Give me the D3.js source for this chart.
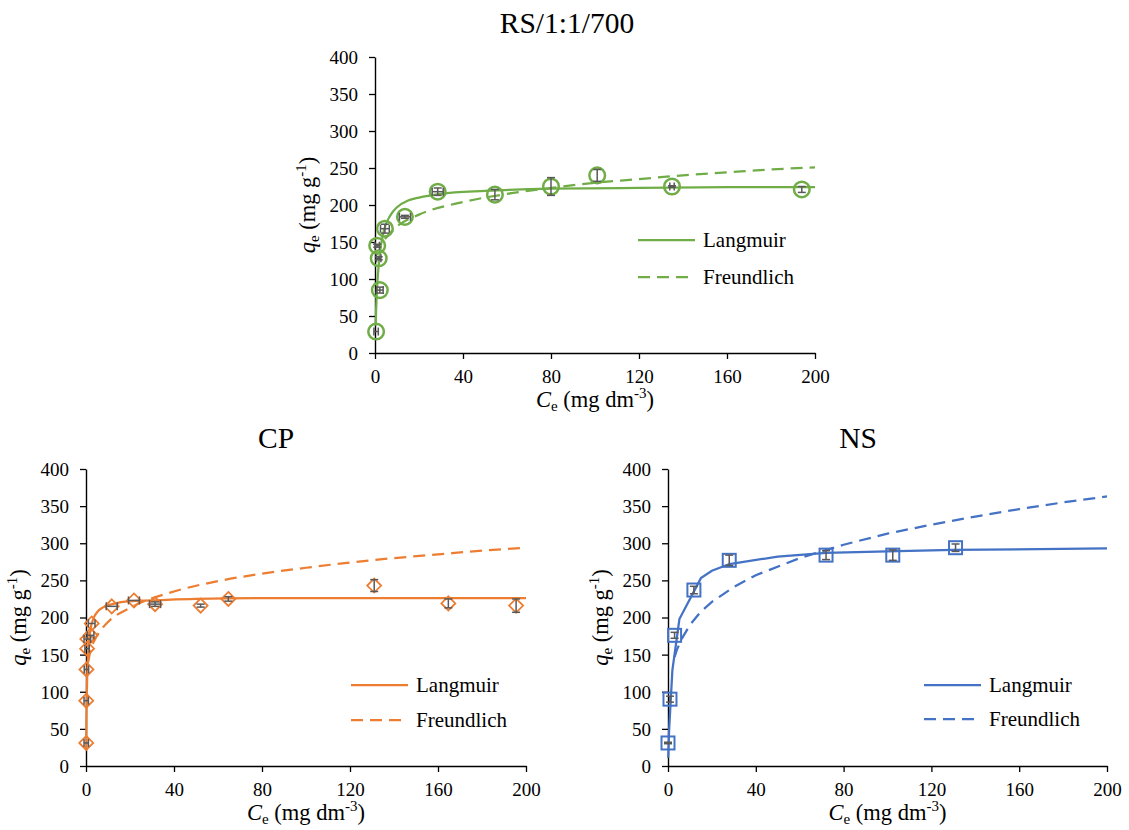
<!DOCTYPE html>
<html>
<head>
<meta charset="utf-8">
<script src="https://cdn.jsdelivr.net/npm/d3@7"></script>
<style>
  body { margin: 0; background: #fff; }
  svg { display: block; }
</style>
</head>
<body>
<svg id="chart" width="1129" height="830" font-family="Liberation Serif"></svg>
<script>
// ---------- data ----------
const xTicks = [0, 40, 80, 120, 160, 200];
const yTicks = [0, 50, 100, 150, 200, 250, 300, 350, 400];
const legendLabels = ["Langmuir", "Freundlich"];

// RS/1:1/700
const rsCe   = [0.5, 2.2, 1.7, 1.0, 4.5, 13.6, 28.5, 54.5, 80, 101, 135, 194];
const rsQe   = [29, 85, 128, 145, 168, 184, 218, 214, 225, 240, 225, 221];
const rsXErr = [1, 1.5, 1, 1, 2, 2.5, 2.5, 0, 0, 0, 1, 0];
const rsYErr = [0, 4, 2, 2, 6, 2, 5, 7, 12, 8, 1, 4];
const rsLangC = [0.3, 0.5, 1, 2, 4, 7, 10, 15, 20, 30, 50, 80, 120, 160, 200];
const rsLangQ = [37, 57, 91, 129, 165, 186, 197, 206, 210, 215, 219, 222, 223, 224, 224];
const rsFreuC = [4.5, 10, 20, 40, 60, 80, 100, 120, 140, 160, 180, 200];
const rsFreuQ = [154, 171, 187, 204, 215, 223, 230, 235, 240, 244, 248, 251];

// CP
const cpCe   = [0.1, 0.1, 0.2, 0.5, 0.6, 2.1, 2.6, 11.7, 21.8, 31.4, 52.1, 64.7, 131, 164.7, 195.5];
const cpQe   = [31, 88, 130, 158, 171, 176, 192, 215, 223, 218, 216, 225, 243, 219, 216];
const cpXErr = [1, 1, 1, 1, 1.5, 1.5, 1.5, 2.5, 2.5, 2.5, 0, 0, 0, 0, 0];
const cpYErr = [0, 0, 0, 0, 0, 0, 0, 0, 0, 3, 2, 3, 8, 6, 9];
const cpLangC = [0.05, 0.1, 0.2, 0.5, 1, 2, 3.3, 5, 8, 12, 20, 30, 50, 80, 120, 160, 200];
const cpLangQ = [21, 38, 66, 115, 153, 183, 198, 207, 214, 218, 222, 223, 225, 226, 226, 226, 226];
const cpFreuC = [1, 2, 4, 7, 10, 20, 40, 60, 80, 100, 120, 140, 160, 180, 200];
const cpFreuQ = [140, 155, 170, 184, 194, 213, 235, 249, 259, 267, 274, 280, 285, 290, 294];

// NS
const nsCe   = [0, 0.9, 3, 11.8, 27.9, 72, 102.4, 131];
const nsQe   = [31, 90, 176, 237, 277, 284, 284, 294];
const nsXErr = [0, 0, 0, 0, 0, 0, 0, 0];
const nsYErr = [1, 4, 4, 5, 7, 6, 7, 5];
const nsLangC = [0.1, 0.5, 2, 5.2, 15, 20, 28, 50, 72, 100, 130, 200];
const nsLangQ = [11, 48, 129, 198, 253, 263, 272, 282, 287, 289, 291, 293];
const nsFreuC = [3, 4, 6, 10, 15, 20, 30, 40, 60, 80, 100, 120, 140, 160, 180, 200];
const nsFreuQ = [147, 156, 170, 190, 208, 221, 241, 257, 280, 298, 313, 325, 336, 346, 355, 363];

// ---------- drawing ----------
const FONT = "Liberation Serif";
const svg = d3.select("#chart");

function zip(a, b) { return a.map((v, i) => [v, b[i]]); }

function drawPanel(p) {
  const g = svg.append("g").attr("font-family", FONT);
  const x = d3.scaleLinear().domain([0, 200]).range([p.x0, p.x1]);
  const y = d3.scaleLinear().domain([0, 400]).range([p.y0, p.y1]);

  // axes
  const xAxis = d3.axisBottom(x).tickValues(xTicks).tickSize(6).tickSizeOuter(0);
  const yAxis = d3.axisLeft(y).tickValues(yTicks).tickSize(6).tickSizeOuter(0);
  const gx = g.append("g").attr("transform", `translate(0,${p.y0})`).call(xAxis);
  const gy = g.append("g").attr("transform", `translate(${p.x0},0)`).call(yAxis);
  [gx, gy].forEach(a => {
    a.attr("font-family", FONT).attr("font-size", 19);
    a.select(".domain").attr("stroke", "#000").attr("stroke-width", 1.4);
    a.selectAll(".tick line").attr("stroke", "#000").attr("stroke-width", 1.3);
    a.selectAll(".tick text").attr("font-family", FONT).attr("font-size", 19).attr("fill", "#000");
  });
  gx.selectAll(".tick text").attr("dy", null).attr("y", 30);
  gy.selectAll(".tick text").attr("x", -17).attr("dy", "0.34em");

  // title
  g.append("text").attr("x", p.titleX).attr("y", p.titleY).attr("text-anchor", "middle")
    .attr("font-size", 29.5).attr("font-family", FONT).text(p.title);

  // x axis title: C_e (mg dm^-3)
  const xt = g.append("text").attr("x", (p.x0 + p.x1) / 2).attr("y", p.y0 + 54)
    .attr("text-anchor", "middle").attr("font-size", 22.5).attr("font-family", FONT);
  xt.append("tspan").attr("font-style", "italic").text("C");
  xt.append("tspan").attr("dy", 4).attr("font-size", 15).text("e");
  xt.append("tspan").attr("dy", -4).text(" (mg dm");
  xt.append("tspan").attr("dy", -9).attr("font-size", 15).text("-3");
  xt.append("tspan").attr("dy", 9).text(")");

  // y axis title: q_e (mg g^-1)
  const yt = g.append("text")
    .attr("transform", `translate(${p.x0 - 60},${(p.y0 + p.y1) / 2}) rotate(-90)`)
    .attr("text-anchor", "middle").attr("font-size", 22.5).attr("font-family", FONT);
  yt.append("tspan").attr("font-style", "italic").text("q");
  yt.append("tspan").attr("dy", 4).attr("font-size", 15).text("e");
  yt.append("tspan").attr("dy", -4).text(" (mg g");
  yt.append("tspan").attr("dy", -9).attr("font-size", 15).text("-1");
  yt.append("tspan").attr("dy", 9).text(")");

  // fitted lines
  const line = d3.line().x(d => x(d[0])).y(d => y(d[1])).curve(p.curve);
  g.append("path").datum(zip(p.langC, p.langQ)).attr("d", line)
    .attr("fill", "none").attr("stroke", p.color).attr("stroke-width", 2.25);
  g.append("path").datum(zip(p.freuC, p.freuQ)).attr("d", line)
    .attr("fill", "none").attr("stroke", p.color).attr("stroke-width", 2.25)
    .attr("stroke-dasharray", "12,7");

  // markers
  const pts = p.ce.map((c, i) => ({ c, q: p.qe[i], ex: p.xErr[i], ey: p.yErr[i] }));
  const mk = g.append("g");
  pts.forEach(d => {
    const cx = x(d.c), cy = y(d.q);
    if (p.marker === "circle") {
      mk.append("circle").attr("cx", cx).attr("cy", cy).attr("r", 7.8)
        .attr("fill", "none").attr("stroke", p.color).attr("stroke-width", 2.5);
    } else if (p.marker === "diamond") {
      const s = 7;
      mk.append("path").attr("d", `M${cx},${cy - s}L${cx + s},${cy}L${cx},${cy + s}L${cx - s},${cy}Z`)
        .attr("fill", "none").attr("stroke", p.color).attr("stroke-width", 1.8);
    } else {
      const s = 6.5;
      mk.append("rect").attr("x", cx - s).attr("y", cy - s).attr("width", 2 * s).attr("height", 2 * s)
        .attr("fill", "none").attr("stroke", p.color).attr("stroke-width", 2);
    }
  });

  // error bars
  const eb = g.append("g").attr("stroke", "#595959").attr("stroke-width", 1.5).attr("fill", "none");
  pts.forEach(d => {
    const cx = x(d.c), cy = y(d.q);
    if (d.ey > 0) {
      const t = y(d.q + d.ey), b = y(d.q - d.ey);
      eb.append("line").attr("x1", cx).attr("x2", cx).attr("y1", t).attr("y2", b);
      eb.append("line").attr("x1", cx - 4).attr("x2", cx + 4).attr("y1", t).attr("y2", t);
      eb.append("line").attr("x1", cx - 4).attr("x2", cx + 4).attr("y1", b).attr("y2", b);
    }
    if (d.ex > 0) {
      const l = x(d.c - d.ex), r = x(d.c + d.ex);
      eb.append("line").attr("x1", l).attr("x2", r).attr("y1", cy).attr("y2", cy);
      eb.append("line").attr("x1", l).attr("x2", l).attr("y1", cy - 4).attr("y2", cy + 4);
      eb.append("line").attr("x1", r).attr("x2", r).attr("y1", cy - 4).attr("y2", cy + 4);
    }
  });

  // legend
  const lg = g.append("g");
  legendLabels.forEach((lab, i) => {
    const ly = p.legY[i];
    const ln = lg.append("line").attr("x1", p.legX).attr("x2", p.legX + 57).attr("y1", ly).attr("y2", ly)
      .attr("stroke", p.color).attr("stroke-width", 2.25);
    if (i === 1) ln.attr("stroke-dasharray", "12,7");
    lg.append("text").attr("x", p.legX + 65).attr("y", ly + 7)
      .attr("font-size", 21).attr("font-family", FONT).text(lab);
  });
}

drawPanel({
  title: "RS/1:1/700", titleX: 567, titleY: 33,
  x0: 375, x1: 815, y0: 353, y1: 57,
  color: "#70AD47", marker: "circle", curve: d3.curveMonotoneX,
  ce: rsCe, qe: rsQe, xErr: rsXErr, yErr: rsYErr,
  langC: rsLangC, langQ: rsLangQ, freuC: rsFreuC, freuQ: rsFreuQ,
  legX: 638, legY: [240, 277]
});
drawPanel({
  title: "CP", titleX: 276, titleY: 448,
  x0: 86, x1: 526, y0: 766, y1: 469,
  color: "#ED7D31", marker: "diamond", curve: d3.curveMonotoneX,
  ce: cpCe, qe: cpQe, xErr: cpXErr, yErr: cpYErr,
  langC: cpLangC, langQ: cpLangQ, freuC: cpFreuC, freuQ: cpFreuQ,
  legX: 351, legY: [685, 720]
});
drawPanel({
  title: "NS", titleX: 858, titleY: 448,
  x0: 668, x1: 1107, y0: 766, y1: 469,
  color: "#4472C4", marker: "square", curve: d3.curveLinear,
  ce: nsCe, qe: nsQe, xErr: nsXErr, yErr: nsYErr,
  langC: nsLangC, langQ: nsLangQ, freuC: nsFreuC, freuQ: nsFreuQ,
  legX: 924, legY: [685, 719]
});
</script>
</body>
</html>
